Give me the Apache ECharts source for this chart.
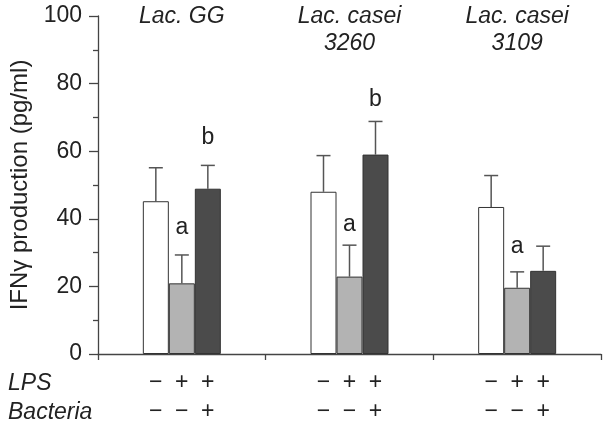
<!DOCTYPE html>
<html>
<head>
<meta charset="utf-8">
<script src="https://cdn.jsdelivr.net/npm/echarts@6/dist/echarts.min.js"></script>
<style>
html, body { margin: 0; padding: 0; background: #fff; }
#graph { width: 604px; height: 423px; }
</style>
</head>
<body>
<div id="graph"></div>
<script>
const chartDom = document.getElementById('graph')
const myChart = echarts.init(chartDom)

// data
const groups = ['Lac. GG', 'Lac. casei\n3260', 'Lac. casei\n3109'];
const controlMean = [45.2, 48.0, 43.5];
const controlSd = [9.9, 10.7, 9.3];
const lpsMean = [20.9, 22.9, 19.6];
const lpsSd = [8.4, 9.3, 4.7];
const bactMean = [48.9, 59.0, 24.6];
const bactSd = [6.9, 9.8, 7.3];
const lpsLetters = ['a', 'a', 'a'];
const lpsLetterY = [37.5, 38.3, 31.9];
const bactLetters = ['b', 'b', ''];
const bactLetterY = [64.0, 75.2, 0];
const lpsSigns = ['\u2212', '+', '+'];
const bacteriaSigns = ['\u2212', '\u2212', '+'];
const yTicks = [0, 20, 40, 60, 80, 100];

const font = "'Liberation Sans', Arial, sans-serif";
const fs = 23;
const barW = 26;
const ink = '#222';

// error bar rows: [group, bar index, mean, sd]
let errData = [];
[controlMean, lpsMean, bactMean].forEach(function (arr, b) {
    const sds = [controlSd, lpsSd, bactSd][b];
    arr.forEach(function (v, g) {
        errData.push([g, b, v, sds[g]]);
    });
});

// letters: [group, bar index, y]
let letterData = [];
let letterText = [];
lpsLetters.forEach(function (t, g) {
    if (t) { letterData.push([g, 1, lpsLetterY[g]]); letterText.push(t); }
});
bactLetters.forEach(function (t, g) {
    if (t) { letterData.push([g, 2, bactLetterY[g]]); letterText.push(t); }
});

const barStyle = function (color) {
    return { color: color, borderColor: '#333', borderWidth: 1 };
};

const option = {
    animation: false,
    grid: { left: 97, right: 3, top: 16, bottom: 68 },
    xAxis: {
        type: 'category',
        data: groups,
        axisLine: { lineStyle: { color: '#444', width: 1.3 } },
        axisTick: { show: true, length: 6, lineStyle: { color: '#444', width: 1.3 } },
        axisLabel: {
            margin: 14,
            formatter: function () {
                return lpsSigns.map(s => '{s|' + s + '}').join('') + '\n' +
                    bacteriaSigns.map(s => '{s|' + s + '}').join('');
            },
            rich: {
                s: { width: barW, align: 'center', fontSize: fs, lineHeight: 29, color: ink, fontFamily: font }
            }
        }
    },
    yAxis: {
        type: 'value',
        min: yTicks[0],
        max: yTicks[yTicks.length - 1],
        interval: 20,
        name: 'IFN\u03b3 production (pg/ml)',
        nameLocation: 'middle',
        nameGap: 66,
        nameTextStyle: { fontSize: 24, color: ink, fontFamily: font },
        axisLine: { show: true, lineStyle: { color: '#444', width: 1.3 } },
        axisTick: { show: true, length: 9, lineStyle: { color: '#444', width: 1.3 } },
        minorTick: { show: true, splitNumber: 2, length: 5, lineStyle: { color: '#444', width: 1.3 } },
        splitLine: { show: false },
        axisLabel: { fontSize: fs, color: ink, fontFamily: font, margin: 16 }
    },
    graphic: [
        { type: 'text', left: 8, top: 372, style: { text: 'LPS', font: 'italic ' + fs + 'px ' + font, fill: ink } },
        { type: 'text', left: 8, top: 401, style: { text: 'Bacteria', font: 'italic ' + fs + 'px ' + font, fill: ink } }
    ],
    series: [
        { name: 'Control', type: 'bar', barWidth: barW, barGap: '0%', data: controlMean, itemStyle: barStyle('#ffffff') },
        { name: 'LPS', type: 'bar', barWidth: barW, barGap: '0%', data: lpsMean, itemStyle: barStyle('#b3b3b3') },
        { name: 'LPS + bacteria', type: 'bar', barWidth: barW, barGap: '0%', data: bactMean, itemStyle: barStyle('#4b4b4b') },
        {
            name: 'error',
            type: 'custom',
            data: errData,
            encode: { x: 0, y: 2 },
            z: 1,
            renderItem: function (params, api) {
                const x = api.coord([api.value(0), 0])[0] + (api.value(1) - 1) * barW;
                const yb = api.coord([api.value(0), api.value(2)])[1];
                const yt = api.coord([api.value(0), api.value(2) + api.value(3)])[1];
                const st = { stroke: '#555', lineWidth: 1.5 };
                return {
                    type: 'group',
                    children: [
                        { type: 'line', shape: { x1: x, y1: yb, x2: x, y2: yt }, style: st },
                        { type: 'line', shape: { x1: x - 7, y1: yt, x2: x + 7, y2: yt }, style: st }
                    ]
                };
            }
        },
        {
            name: 'letters',
            type: 'custom',
            data: letterData,
            encode: { x: 0, y: 2 },
            renderItem: function (params, api) {
                const p = api.coord([api.value(0), api.value(2)]);
                return {
                    type: 'text',
                    x: p[0] + (api.value(1) - 1) * barW,
                    y: p[1],
                    style: {
                        text: letterText[params.dataIndex],
                        font: fs + 'px ' + font,
                        fill: ink,
                        textAlign: 'center',
                        textVerticalAlign: 'middle'
                    }
                };
            }
        },
        {
            name: 'titles',
            type: 'custom',
            data: groups.map((g, i) => [i, yTicks[yTicks.length - 1]]),
            encode: { x: 0, y: 1 },
            renderItem: function (params, api) {
                const p = api.coord([api.value(0), api.value(1)]);
                return {
                    type: 'text',
                    x: p[0],
                    y: p[1] - 13,
                    style: {
                        text: groups[params.dataIndex],
                        font: 'italic ' + fs + 'px ' + font,
                        lineHeight: 27,
                        fill: ink,
                        textAlign: 'center',
                        textVerticalAlign: 'top'
                    }
                };
            }
        }
    ]
};

option && myChart.setOption(option);
</script>
</body>
</html>
